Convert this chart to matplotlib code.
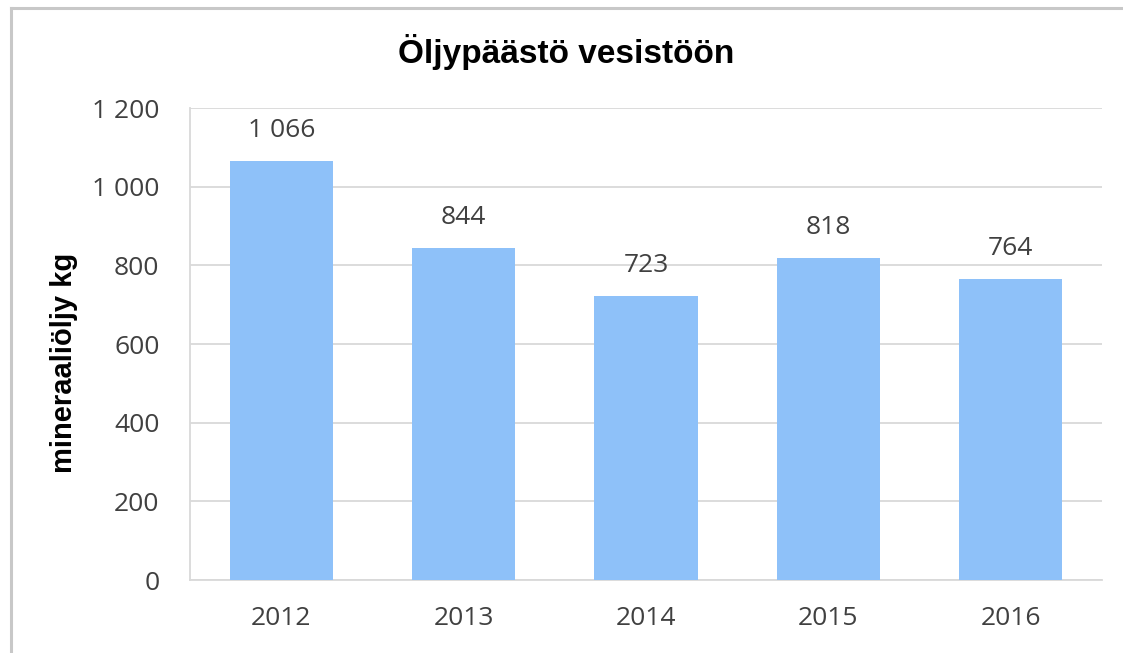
import matplotlib.pyplot as plt
from matplotlib.lines import Line2D
from matplotlib.ticker import FuncFormatter

# data ########################################################
years = ['2012', '2013', '2014', '2015', '2016']
oil_kg = [1066, 844, 723, 818, 764]
y_ticks = [0, 200, 400, 600, 800, 1000, 1200]

def space_thousands(v, pos=None):
    # 1066 -> '1 066'
    return f'{int(v):,}'.replace(',', ' ')

# figure ######################################################
W, H = 1123, 653
fig = plt.figure(figsize=(W / 100, H / 100), dpi=100)
fig.patch.set_facecolor('white')
ax = fig.add_axes([190 / W, 1 - 580 / H, (1102 - 190) / W, (580 - 108) / H])

x = range(len(years))
bars = ax.bar(x, oil_kg, width=0.565, color='#8EC1F9', zorder=3)

ax.set_ylim(0, 1200)
ax.set_xlim(-0.5, len(years) - 0.5)
ax.set_yticks(y_ticks)
ax.yaxis.set_major_formatter(FuncFormatter(space_thousands))
ax.set_xticks(list(x))
ax.set_xticklabels(years)
ax.grid(axis='y', color='#D9D9D9', linewidth=1.3, zorder=0)

for s in ['top', 'right']:
    ax.spines[s].set_visible(False)
ax.spines['left'].set_color('#D9D9D9')
ax.spines['left'].set_linewidth(1.3)
ax.spines['bottom'].set_color('#D9D9D9')
ax.spines['bottom'].set_linewidth(1.3)

tick_font = dict(family='Open Sans', size=19, color='#404040')
ax.tick_params(axis='y', length=0, pad=22)
ax.tick_params(axis='x', length=0, pad=19)
for lab in ax.get_yticklabels() + ax.get_xticklabels():
    lab.set_fontfamily('Open Sans')
    lab.set_fontsize(19)
    lab.set_color('#404040')

# value labels above the bars
for b, v in zip(bars, oil_kg):
    ax.annotate(space_thousands(v), (b.get_x() + b.get_width() / 2, v),
                xytext=(0, 13), textcoords='offset points',
                ha='center', va='bottom', **tick_font)

# titles ######################################################
fig.text(566 / W, 1 - 52 / H, 'Öljypäästö vesistöön', ha='center',
         va='center', family='Liberation Sans', weight='bold', size=24,
         color='#000000')
fig.text(64 / W, 1 - 363 / H, 'mineraaliöljy kg', ha='center',
         va='center', rotation=90, family='Liberation Sans',
         weight='bold', size=21, color='#000000')

# outer frame (top and left edges only visible) ##############
fig.add_artist(Line2D([11 / W, 1], [1 - 8 / H, 1 - 8 / H],
                      transform=fig.transFigure, color='#C8C8C8', lw=2.2))
fig.add_artist(Line2D([11 / W, 11 / W], [0, 1 - 8 / H],
                      transform=fig.transFigure, color='#C8C8C8', lw=2.2))

fig.savefig('out.png', dpi=100)
